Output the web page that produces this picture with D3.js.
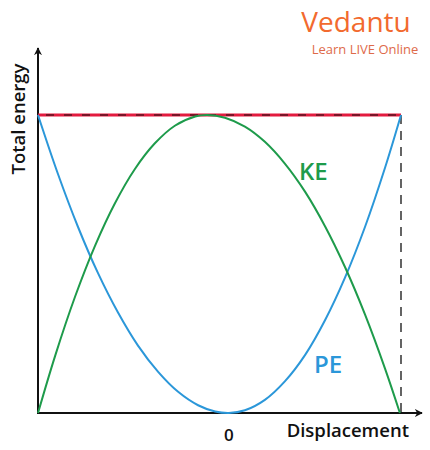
<!DOCTYPE html>
<html lang="en">
<head>
<meta charset="UTF-8">
<title>Energy vs displacement</title>
<script src="https://d3js.org/d3.v7.min.js"></script>
<style>
  body { margin: 0; background: #fff; }
  text { font-family: "Open Sans", sans-serif; }
</style>
</head>
<body>
<svg width="430" height="450"></svg>
<script>
// displacement on a 0..100 scale, energy as fraction of total
const peX = [0, 5.5, 11.0, 16.5, 22.0, 27.5, 33.1, 38.6, 44.1, 48.8, 52.6,
             57.0, 62.5, 68.0, 73.6, 79.1, 84.6, 90.1, 95.6, 100];
const peY = [1, 0.802, 0.625, 0.470, 0.338, 0.227, 0.138, 0.071, 0.026, 0.005, 0,
             0.009, 0.044, 0.106, 0.195, 0.312, 0.455, 0.625, 0.823, 1];
const keX = [0, 4.7, 10.2, 15.7, 21.2, 26.7, 32.2, 37.7, 43.3, 46.6,
             51.5, 57.0, 62.5, 68.0, 73.6, 79.1, 84.6, 90.1, 95.6, 99.7];
const keY = [0, 0.191, 0.390, 0.561, 0.704, 0.819, 0.905, 0.964, 0.995, 1,
             0.991, 0.961, 0.910, 0.837, 0.742, 0.626, 0.489, 0.330, 0.149, 0];
const totalEnergy = 1;
const zeroAt = 52.6;

var svg = d3.select("svg");
var x = d3.scaleLinear().domain([0, 100]).range([38, 401]);
var y = d3.scaleLinear().domain([0, 1]).range([413, 115]);

var pe = peX.map((d, i) => [d, peY[i]]);
var ke = keX.map((d, i) => [d, keY[i]]);

var line = d3.line()
    .x(d => x(d[0]))
    .y(d => y(d[1]))
    .curve(d3.curveCatmullRom.alpha(0.5));

// arrow heads
var defs = svg.append("defs");
defs.append("marker")
    .attr("id", "arrow")
    .attr("viewBox", "0 0 10 10")
    .attr("refX", 9).attr("refY", 5)
    .attr("markerWidth", 8).attr("markerHeight", 8)
    .attr("markerUnits", "userSpaceOnUse")
    .attr("orient", "auto")
    .append("path")
    .attr("d", "M0,0 L10,5 L0,10 L3,5 Z")
    .attr("fill", "#111");

// axes
svg.append("line")
    .attr("x1", x(0)).attr("y1", y(0))
    .attr("x2", x(0)).attr("y2", 48)
    .attr("stroke", "#111").attr("stroke-width", 2)
    .attr("marker-end", "url(#arrow)");
svg.append("line")
    .attr("x1", x(0) - 1).attr("y1", y(0))
    .attr("x2", 422).attr("y2", y(0))
    .attr("stroke", "#111").attr("stroke-width", 2)
    .attr("marker-end", "url(#arrow)");

// total energy line
svg.append("line")
    .attr("x1", x(0)).attr("x2", x(100))
    .attr("y1", y(totalEnergy)).attr("y2", y(totalEnergy))
    .attr("stroke", "#e31b3f").attr("stroke-width", 3);
svg.append("line")
    .attr("x1", x(0) + 8).attr("x2", x(100))
    .attr("y1", y(totalEnergy)).attr("y2", y(totalEnergy))
    .attr("stroke", "#111").attr("stroke-width", 1)
    .attr("stroke-dasharray", "8,10");

// amplitude marker
svg.append("line")
    .attr("x1", x(100)).attr("x2", x(100))
    .attr("y1", y(totalEnergy)).attr("y2", y(0))
    .attr("stroke", "#111").attr("stroke-width", 1.3)
    .attr("stroke-dasharray", "9,7");

svg.append("path")
    .datum(pe)
    .attr("d", line)
    .attr("fill", "none")
    .attr("stroke", "#2b97d9")
    .attr("stroke-width", 2);

svg.append("path")
    .datum(ke)
    .attr("d", line)
    .attr("fill", "none")
    .attr("stroke", "#1e9b4b")
    .attr("stroke-width", 2);

// labels
svg.append("text")
    .attr("x", 299).attr("y", 180)
    .attr("font-size", 24).attr("font-weight", 600)
    .attr("fill", "#1e9b4b")
    .text("KE");
svg.append("text")
    .attr("x", 314).attr("y", 373)
    .attr("font-size", 24).attr("font-weight", 600)
    .attr("fill", "#2b97d9")
    .text("PE");

svg.append("text")
    .attr("text-anchor", "middle")
    .attr("transform", "translate(25,119)rotate(-90)")
    .attr("font-size", 18.5).attr("font-weight", 600)
    .attr("fill", "#111")
    .text("Total energy");
svg.append("text")
    .attr("x", 409).attr("y", 437)
    .attr("text-anchor", "end")
    .attr("font-size", 18.5).attr("font-weight", 600)
    .attr("fill", "#111")
    .text("Displacement");
svg.append("text")
    .attr("x", x(zeroAt)).attr("y", 441)
    .attr("text-anchor", "middle")
    .attr("font-size", 17).attr("font-weight", 600)
    .attr("fill", "#111")
    .text("0");

// logo
svg.append("text")
    .attr("x", 356).attr("y", 32)
    .attr("text-anchor", "middle")
    .attr("font-size", 28)
    .attr("fill", "#f26a2e")
    .text("Vedantu");
svg.append("text")
    .attr("x", 365).attr("y", 54)
    .attr("text-anchor", "middle")
    .attr("font-size", 13)
    .attr("fill", "#de6a4a")
    .text("Learn LIVE Online");
</script>
</body>
</html>
